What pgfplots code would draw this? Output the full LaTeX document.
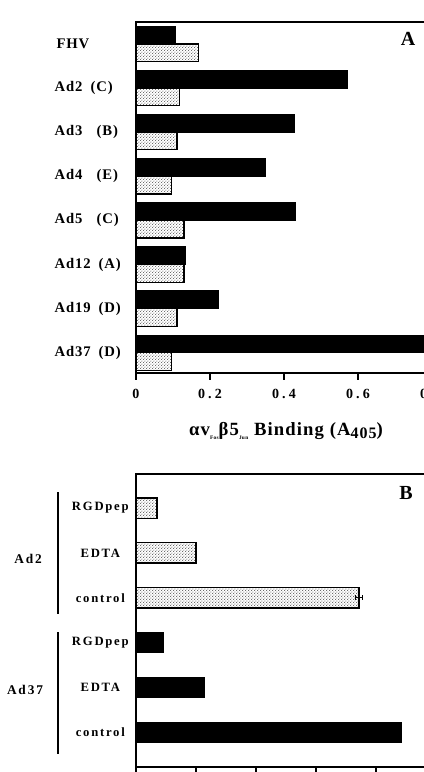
\documentclass[border=0pt]{standalone}
\usepackage{fontspec}
\setmainfont{Liberation Serif}
\newfontfamily\spaced{Liberation Serif}[LetterSpace=6]
\newfontfamily\midsp{Liberation Serif}[LetterSpace=14]
\newfontfamily\wide{Liberation Serif}[LetterSpace=22]
\usepackage{pgfplots}
\pgfplotsset{compat=1.18}
\usetikzlibrary{patterns}
\pgfdeclarepatternformonly{finedots}{\pgfqpoint{0pt}{0pt}}{\pgfqpoint{2.4pt}{2.4pt}}{\pgfqpoint{2.4pt}{2.4pt}}{%
  \pgfpathcircle{\pgfqpoint{0.6pt}{0.6pt}}{0.42pt}%
  \pgfpathcircle{\pgfqpoint{1.8pt}{1.8pt}}{0.42pt}%
  \pgfusepath{fill}}
\pgfplotsset{
  blackbar/.style={draw=black, fill=black, line width=0.8pt, bar shift=0pt},
  dotbar/.style={draw=black, pattern=finedots, line width=0.9pt, bar shift=0pt},
}
\begin{document}
\begin{tikzpicture}
\useasboundingbox (0pt,0pt) rectangle (318pt,-579pt);
\clip (0pt,0pt) rectangle (318pt,-579pt);
% ---------- Panel A ----------
\begin{axis}[
  at={(102pt,-279.75pt)}, anchor=south west,
  scale only axis, width=222pt, height=263.25pt,
  xmin=0, xmax=0.8, ymin=-0.5, ymax=7.46, y dir=reverse,
  xbar, bar width=0.4,
  axis line style={line width=0.9pt},
  xtick={0,0.2,0.4,0.6,0.8},
  xticklabels={0,0.2,0.4,0.6,0.8},
  xtick pos=left,
  tick align=outside,
  xtick style={line width=0.8pt, black},
  major tick length=5pt,
  xticklabel style={font=\wide\bfseries\fontsize{10.5}{12}\selectfont, anchor=north, yshift=-3.5pt},
  ytick={0,1,2,3,4,5,6,7},
  yticklabels={\hspace*{1.5pt}FHV,
    \makebox[27pt][l]{Ad2}(C),
    \makebox[31.5pt][l]{Ad3}(B),
    \makebox[31.5pt][l]{Ad4}(E),
    \makebox[31.5pt][l]{Ad5}(C),
    \makebox[33pt][l]{Ad12}(A),
    \makebox[33pt][l]{Ad19}(D),
    \makebox[33pt][l]{Ad37}(D)},
  ytick style={draw=none},
  yticklabel style={font=\spaced\bfseries\fontsize{11}{12}\selectfont, anchor=west, inner sep=0pt, xshift=-56.25pt},
  xlabel={\bfseries\fontsize{14}{16}\selectfont\spaced αv\raisebox{-3pt}{\fontsize{4}{4}\selectfont Fos}β5\raisebox{-3pt}{\fontsize{4}{4}\selectfont Jun} Binding (A\raisebox{-2.5pt}{\fontsize{12}{13}\selectfont 405})},
  xlabel style={at={(axis description cs:0.5,0)}, anchor=center, yshift=-43.5pt, xshift=1.5pt},
]
\addplot[blackbar] coordinates {(0.106,-0.2) (0.572,0.8) (0.428,1.8) (0.349,2.8) (0.431,3.8) (0.134,4.8) (0.222,5.8) (0.86,6.8)};
\addplot[dotbar] coordinates {(0.170,0.2) (0.117,1.2) (0.111,2.2) (0.097,3.2) (0.130,4.2) (0.130,5.2) (0.111,6.2) (0.095,7.2)};
\end{axis}
\node[font=\bfseries\fontsize{15}{16}\selectfont] at (306pt,-29.25pt) {A};
% ---------- Panel B ----------
\begin{axis}[
  at={(102pt,-575.25pt)}, anchor=south west,
  scale only axis, width=225pt, height=219.75pt,
  xmin=0, xmax=1, ymin=-0.757, ymax=5.768, y dir=reverse,
  xbar, bar width=0.45,
  axis line style={line width=0.9pt},
  xtick={0,0.2,0.4,0.6,0.8,1},
  xticklabels={},
  xtick pos=left,
  tick align=outside,
  xtick style={line width=0.8pt, black},
  major tick length=5pt,
  ytick={0,1,2,3,4,5},
  yticklabels={RGDpep,EDTA,control,RGDpep,EDTA,control},
  ytick style={draw=none},
  yticklabel style={font=\midsp\bfseries\fontsize{9.5}{11}\selectfont, anchor=center, inner sep=0pt, xshift=-21.75pt},
]
\addplot[dotbar] coordinates {(0.07,0) (0.20,1)};
\addplot[dotbar, error bars/.cd, x dir=both, x explicit, error bar style={line width=0.6pt, black}, error mark options={rotate=90, mark size=2pt, line width=0.6pt}]
  coordinates {(0.743,2) +- (0.013,0)};
\addplot[blackbar] coordinates {(0.09,3) (0.227,4) (0.886,5)};
\end{axis}
\node[font=\bfseries\fontsize{15}{16}\selectfont] at (304.5pt,-369.75pt) {B};
\node[font=\midsp\bfseries\fontsize{10}{12}\selectfont] at (21pt,-419.25pt) {Ad2};
\node[font=\midsp\bfseries\fontsize{10}{12}\selectfont] at (18.75pt,-517.5pt) {Ad37};
\draw[line width=0.8pt] (43.5pt,-369pt) -- (43.5pt,-460.5pt);
\draw[line width=0.8pt] (43.5pt,-474pt) -- (43.5pt,-565.5pt);
\end{tikzpicture}
\end{document}
